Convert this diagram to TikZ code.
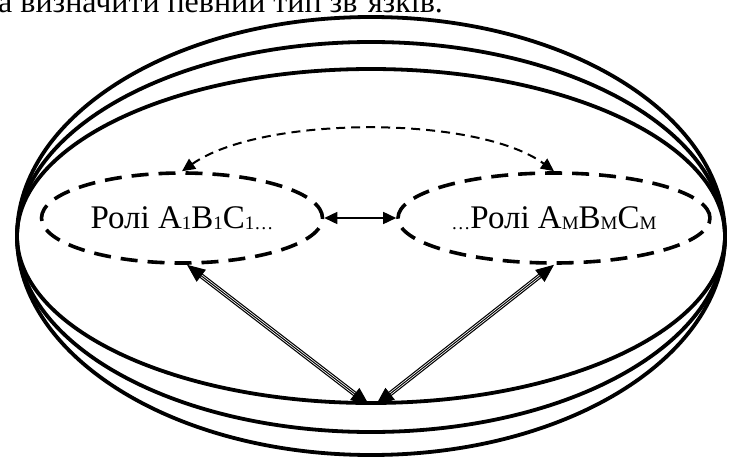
\documentclass[tikz,border=0pt]{standalone}
\usepackage{fontspec}
\setmainfont{Liberation Serif}
\usetikzlibrary{shapes.geometric,arrows.meta}
% small lowered index for role names
\newcommand\idx[1]{\raisebox{-1.5pt}{\fontsize{19}{19}\selectfont #1}}
\tikzset{
  bigtip/.tip={Triangle[length=18pt,width=15pt]},
  smalltip/.tip={Triangle[length=13pt,width=12pt]}}
\begin{document}
\begin{tikzpicture}[x=1pt,y=-1pt,
  ring/.style={draw, ellipse, line width=3.8pt, inner sep=0pt, minimum width=708pt},
  role/.style={draw, ellipse, line width=3.6pt, dash pattern=on 17pt off 10pt,
    inner sep=0pt, minimum height=90pt, font=\fontsize{33}{36}\selectfont},
  link/.style={line width=2pt, dash pattern=on 9pt off 6pt, {smalltip}-{smalltip}},
  swap/.style={line width=1.6pt, {smalltip}-{smalltip}},
  triple/.style={line width=1.2pt, double=white, double distance=2.6pt},
  core/.style={line width=1pt, {bigtip}-{bigtip}}]
\useasboundingbox (0,0) rectangle (731,458);
\clip (0,0) rectangle (731,458);

% closing words of the line above
\node[anchor=base west, inner sep=0pt, font=\fontsize{32}{36}\selectfont] (above) at (-2,12)
  {а визначити певний тип зв'язків.};

% three nested bounding ellipses
\node[ring, minimum height=438pt] (outer) at (371,236) {};
\node[ring, minimum height=390pt] (middle) at (371,237) {};
\node[ring, minimum height=334pt] (inner) at (371,236) {};

% role groups
\node[role, minimum width=281pt] (L) at (182,218) {Ролі A\idx{1}B\idx{1}C\idx{1}\idx{…}};
\node[role, minimum width=312pt] (R) at (554,218) {\idx{…}Ролі A\idx{М}B\idx{М}C\idx{М}};

% connections
\draw[link] (L.north) .. controls (262,115) and (478,115) .. (R.north);
\draw[swap] (L.east) -- (R.west);

\coordinate (b1) at ([xshift=-2pt]inner.south);
\coordinate (b2) at ([xshift=5pt]inner.south);
\coordinate (l1) at ([xshift=5pt]L.south);
\coordinate (r1) at (R.south);
\draw[triple, shorten <=16pt, shorten >=16pt] (l1) -- (b1);
\draw[core] (l1) -- (b1);
\draw[triple, shorten <=16pt, shorten >=16pt] (r1) -- (b2);
\draw[core] (r1) -- (b2);
\end{tikzpicture}
\end{document}
